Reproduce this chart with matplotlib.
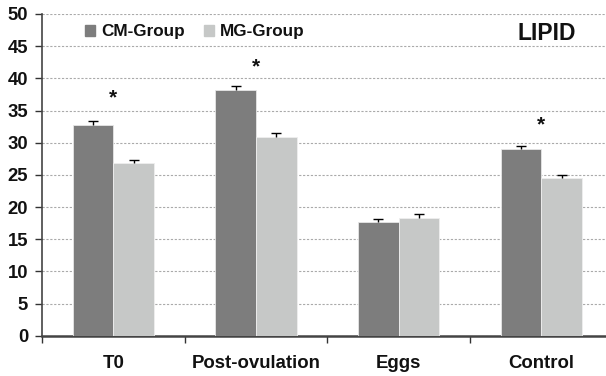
import matplotlib
matplotlib.use("Agg")
import matplotlib.pyplot as plt
from matplotlib.patches import Patch

categories = ["T0", "Post-ovulation", "Eggs", "Control"]
cm_values = [32.8, 38.2, 17.7, 29.0]
mg_values = [26.8, 30.9, 18.3, 24.5]
cm_err = [0.5, 0.6, 0.4, 0.5]
mg_err = [0.5, 0.6, 0.6, 0.5]
star_y = [37.0, 41.8, None, 32.7]
y_ticks = [0, 5, 10, 15, 20, 25, 30, 35, 40, 45, 50]

plt.rcParams['font.family'] = ['Liberation Sans', 'DejaVu Sans']
plt.rcParams['font.weight'] = 'bold'
plt.rcParams['text.color'] = '#111111'
plt.rcParams['xtick.labelcolor'] = '#111111'
plt.rcParams['ytick.labelcolor'] = '#111111'

fig = plt.figure(figsize=(6.06, 3.76), dpi=100)
ax = fig.add_axes([42/606, 1-335.7/376, 1-42/606, (335.7-14)/376])

cm_color = "#7d7d7d"
mg_color = "#c6c8c7"
w = 0.285
n = len(categories)
xc = [i + 0.5 for i in range(n)]
cm_x = [x - w/2 for x in xc]
mg_x = [x + w/2 for x in xc]
ax.bar(cm_x, cm_values, width=w, color=cm_color, edgecolor="#e6e6e6", linewidth=0.6, zorder=3)
ax.bar(mg_x, mg_values, width=w, color=mg_color, edgecolor="#eeeeee", linewidth=0.6, zorder=3)
for xs, vals, errs in ((cm_x, cm_values, cm_err), (mg_x, mg_values, mg_err)):
    tops = [v + e for v, e in zip(vals, errs)]
    ax.vlines(xs, vals, tops, colors='black', linewidth=1, zorder=4)
    ax.plot(xs, tops, linestyle='none', marker='_', markersize=6.5, markeredgewidth=1, color='black', zorder=4)

for x, s in zip(xc, star_y):
    if s is not None:
        ax.text(x, s, "*", ha='center', va='center', fontsize=15, fontweight='bold')

ax.set_xlim(0, 564/142.7)
ax.set_ylim(0, 50)
ax.set_yticks(y_ticks)
ax.set_yticklabels([str(t) for t in y_ticks], fontsize=13.3, fontweight='bold')
ax.set_xticks(range(n))
ax.set_xticklabels([""]*n)
ax.set_xticks(xc, minor=True)
ax.set_xticklabels(categories, minor=True, fontsize=13.4, fontweight='bold')
ax.tick_params(axis='x', which='major', length=5, width=1, color='#333333', direction='out')
ax.tick_params(axis='x', which='minor', length=0, pad=14)
ax.tick_params(axis='y', length=5, width=1, color='#333333', pad=5)

ax.yaxis.grid(True, linestyle=(0, (2, 1.5)), color='#aaaaaa', linewidth=0.8, zorder=0)
ax.set_axisbelow(True)
for s in ['top', 'right']:
    ax.spines[s].set_visible(False)
ax.spines['left'].set_color('#444444')
ax.spines['left'].set_linewidth(1.2)
ax.spines['bottom'].set_color('#444444')
ax.spines['bottom'].set_linewidth(1.8)

handles = [Patch(color=cm_color, label="CM-Group"), Patch(color=mg_color, label="MG-Group")]
ax.legend(handles=handles, loc='upper left', bbox_to_anchor=(0.058, 1.0), ncol=2, frameon=False,
          prop={'weight': 'bold', 'size': 12.3}, handlelength=0.6, handleheight=0.6,
          handletextpad=0.35, columnspacing=1.1, borderaxespad=0.2)

fig.text(547/606, 1-33/376, "LIPID", fontsize=16.5, fontweight='bold', ha='center', va='center')

fig.savefig("out.png", dpi=100)
